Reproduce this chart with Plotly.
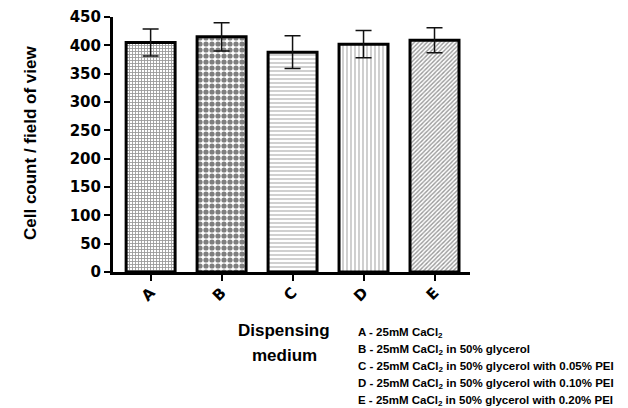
import plotly.graph_objects as go

categories = ["A", "B", "C", "D", "E"]
values = [405, 415, 388, 402, 409]
errors = [24, 25, 29, 24, 22]
patterns = ["+", ".", "-", "|", "/"]
legend_lines = [
    "A - 25mM CaCl<sub>2</sub>",
    "B - 25mM CaCl<sub>2</sub> in 50% glycerol",
    "C - 25mM CaCl<sub>2</sub> in 50% glycerol with 0.05% PEI",
    "D - 25mM CaCl<sub>2</sub> in 50% glycerol with 0.10% PEI",
    "E - 25mM CaCl<sub>2</sub> in 50% glycerol with 0.20% PEI",
]

OFF = 8  # page body margin
W, H = 628 - OFF, 408 - OFF
# plot area in page pixels
X0, X1, Y0, Y1 = 113, 470, 17, 272
L, R, T, B = X0 - OFF, W - (X1 - OFF), Y0 - OFF, H - (Y1 - OFF)
pw, ph = X1 - X0, Y1 - Y0
def px(x):
    return (x - X0) / pw
def py(y):
    return (Y1 - y) / ph

FONT = "Liberation Sans"
TFONT = "DejaVu Sans"

fig = go.Figure()
sizes = [3, 6, 4, 4, 3]
sol = [0.5, 0.6, 0.35, 0.35, 0.45]
fgc = ["#333", "#000", "#777", "#777", "#333"]
for i, c in enumerate(categories):
    fig.add_trace(go.Bar(
        x=[c], y=[values[i]],
        width=0.69,
        marker=dict(color="white", line=dict(color="black", width=3),
                    pattern=dict(shape=patterns[i], size=sizes[i], solidity=sol[i],
                                 fgcolor=fgc[i], bgcolor="white")),
        error_y=dict(type="data", array=[errors[i]], color="#111", thickness=1.5, width=8),
        showlegend=False,
    ))

fig.update_layout(
    width=W, height=H,
    margin=dict(l=L, r=R, t=T, b=B, autoexpand=False),
    plot_bgcolor="white", paper_bgcolor="white",
    font=dict(family=FONT, color="black"),
    xaxis=dict(range=[-0.53, 4.5], showline=True, linewidth=3, linecolor="black",
               ticks="outside", ticklen=6, tickwidth=2, tickcolor="black",
               tickangle=-45, tickfont=dict(size=15, family=TFONT, weight="bold"),
               ticklabelstandoff=-3,
               showgrid=False, zeroline=False, fixedrange=True, automargin=False),
    yaxis=dict(range=[0, 450], dtick=50, showline=True, linewidth=3, linecolor="black",
               ticks="outside", ticklen=6, tickwidth=2, tickcolor="black",
               tickfont=dict(size=15, family=TFONT, weight="bold"),
               showgrid=False, zeroline=False, fixedrange=True, automargin=False),
)

ann = []
ann.append(dict(text="<b>Cell count / field of view</b>", x=px(30), y=py(143),
                xref="paper", yref="paper", textangle=-90, showarrow=False,
                font=dict(size=17, family=FONT), xanchor="center", yanchor="middle"))
ann.append(dict(text="<b>Dispensing</b>", x=px(284), y=py(330), xref="paper", yref="paper",
                showarrow=False, font=dict(size=17, family=FONT), xanchor="center", yanchor="middle"))
ann.append(dict(text="<b>medium</b>", x=px(284), y=py(355), xref="paper", yref="paper",
                showarrow=False, font=dict(size=17, family=FONT), xanchor="center", yanchor="middle"))
for j, t in enumerate(legend_lines):
    ann.append(dict(text="<b>" + t + "</b>", x=px(356), y=py(333 + 17 * j),
                    xref="paper", yref="paper", showarrow=False,
                    font=dict(size=11.5, family=FONT), xanchor="left", yanchor="middle"))
fig.update_layout(annotations=ann)

fig.write_html("out.html")
